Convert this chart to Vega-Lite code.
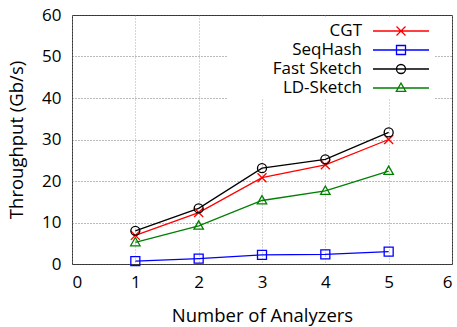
{
  "$schema": "https://vega.github.io/schema/vega-lite/v6.json",
  "width": 380,
  "height": 249,
  "autosize": "none",
  "padding": {"left": 72, "top": 15, "right": 5, "bottom": 63},
  "background": "white",
  "data": {
    "values": [
      {"n": 1, "series": "CGT", "v": 6.9},
      {"n": 2, "series": "CGT", "v": 12.4},
      {"n": 3, "series": "CGT", "v": 20.8},
      {"n": 4, "series": "CGT", "v": 23.9},
      {"n": 5, "series": "CGT", "v": 30.0},
      {"n": 1, "series": "SeqHash", "v": 0.7},
      {"n": 2, "series": "SeqHash", "v": 1.3},
      {"n": 3, "series": "SeqHash", "v": 2.2},
      {"n": 4, "series": "SeqHash", "v": 2.3},
      {"n": 5, "series": "SeqHash", "v": 3.0},
      {"n": 1, "series": "Fast Sketch", "v": 8.0},
      {"n": 2, "series": "Fast Sketch", "v": 13.4},
      {"n": 3, "series": "Fast Sketch", "v": 23.1},
      {"n": 4, "series": "Fast Sketch", "v": 25.2},
      {"n": 5, "series": "Fast Sketch", "v": 31.7},
      {"n": 1, "series": "LD-Sketch", "v": 5.2},
      {"n": 2, "series": "LD-Sketch", "v": 9.2},
      {"n": 3, "series": "LD-Sketch", "v": 15.3},
      {"n": 4, "series": "LD-Sketch", "v": 17.6},
      {"n": 5, "series": "LD-Sketch", "v": 22.4}
    ]
  },
  "encoding": {
    "x": {
      "field": "n", "type": "quantitative",
      "scale": {"domain": [0, 6], "nice": false},
      "axis": {
        "values": [0, 1, 2, 3, 4, 5, 6],
        "title": "Number of Analyzers",
        "titleBaseline": "alphabetic",
        "titleY": 57,
        "labelPadding": 10
      }
    },
    "y": {
      "field": "v", "type": "quantitative",
      "scale": {"domain": [0, 60], "nice": false},
      "axis": {
        "values": [0, 10, 20, 30, 40, 50, 60],
        "title": "Throughput (Gb/s)",
        "titleBaseline": "alphabetic",
        "titleX": -50,
        "labelPadding": 11
      }
    },
    "color": {
      "field": "series", "type": "nominal",
      "scale": {
        "domain": ["CGT", "SeqHash", "Fast Sketch", "LD-Sketch"],
        "range": ["#ff0000", "#0000ff", "#000000", "#007f00"]
      },
      "legend": {
        "title": null,
        "orient": "none",
        "legendX": 155,
        "legendY": 2,
        "padding": 3,
        "fillColor": "white",
        "rowPadding": 0,
        "symbolSize": 400,
        "symbolStrokeWidth": 1.3,
        "labelAlign": "right",
        "labelOffset": -50,
        "symbolOffset": 160,
        "labelFont": "Open Sans",
        "labelFontSize": 17,
        "labelColor": "black",
        "labelLimit": 0,
        "encode": {
          "symbols": {
            "update": {
              "shape": {"signal": "datum.value === 'CGT' ? 'M-2.8,0L2.8,0M-0.45,-0.45L0.45,0.45M-0.45,0.45L0.45,-0.45' : datum.value === 'SeqHash' ? 'M-2.8,0L2.8,0M-0.45,-0.45L0.45,-0.45L0.45,0.45L-0.45,0.45Z' : datum.value === 'Fast Sketch' ? 'M-2.8,0L2.8,0M-0.45,0A0.45,0.45,0,1,0,0.45,0A0.45,0.45,0,1,0,-0.45,0Z' : 'M-2.8,0L2.8,0M0,-0.5L0.47,0.34L-0.47,0.34Z'"},
              "fill": {"value": "transparent"},
              "strokeWidth": {"value": 1.3}
            }
          }
        }
      }
    }
  },
  "layer": [
    {
      "mark": {"type": "line", "strokeWidth": 1.3}
    },
    {
      "transform": [{"filter": "datum.series === 'CGT'"}],
      "mark": {"type": "point", "filled": false, "strokeWidth": 1.3, "size": 81, "opacity": 1, "shape": "M-1,-1L1,1M-1,1L1,-1"}
    },
    {
      "transform": [{"filter": "datum.series === 'SeqHash'"}],
      "mark": {"type": "point", "filled": false, "strokeWidth": 1.3, "size": 81, "opacity": 1, "shape": "M-1,-1L1,-1L1,1L-1,1Z"}
    },
    {
      "transform": [{"filter": "datum.series === 'Fast Sketch'"}],
      "mark": {"type": "point", "filled": false, "strokeWidth": 1.3, "size": 81, "opacity": 1, "shape": "M-1,0A1,1,0,1,0,1,0A1,1,0,1,0,-1,0Z"}
    },
    {
      "transform": [{"filter": "datum.series === 'LD-Sketch'"}],
      "mark": {"type": "point", "filled": false, "strokeWidth": 1.3, "size": 81, "opacity": 1, "shape": "M0,-1.1L1.05,0.75L-1.05,0.75Z"}
    }
  ],
  "config": {
    "font": "Open Sans",
    "view": {"stroke": "#333333", "strokeWidth": 1},
    "axis": {
      "domain": false,
      "ticks": false,
      "grid": true,
      "gridDash": [1, 2],
      "gridColor": "#555555",
      "gridOpacity": 0.8,
      "labelFont": "Open Sans",
      "labelFontSize": 17,
      "labelColor": "black",
      "titleFont": "Open Sans",
      "titleFontSize": 18.5,
      "titleFontWeight": "normal",
      "titleColor": "black"
    },
    "axisX": {"gridColor": "#999999"}
  }
}
